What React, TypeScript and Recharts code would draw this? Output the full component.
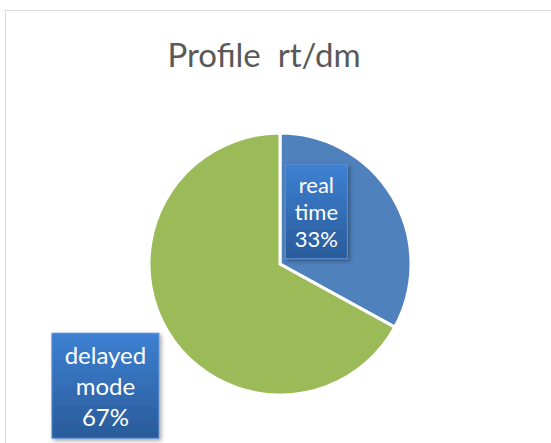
import { PieChart, Pie, Cell } from 'recharts';

const categories = ['real time', 'delayed mode'];
const shares = [33, 67];
const sliceColors = ['#4F81BD', '#9BBB59'];

const data = categories.map((name, i) => ({ name, value: shares[i] }));

// label box placement, Excel style "best fit"
const labelStyle: Record<string, { k: number; dx: number; dy: number; w: number; h: number; fs: number; lh: number }> = {
  'real time': { k: 0.5, dx: -20, dy: -19, w: 62, h: 94, fs: 22, lh: 27 },
  'delayed mode': { k: 1.3, dx: -28, dy: 35, w: 107, h: 105, fs: 24, lh: 31 },
};

const RAD = Math.PI / 180;

function renderLabel(props: any) {
  const { cx, cy, midAngle, outerRadius, percent, name } = props;
  const s = labelStyle[name];
  const r = outerRadius * s.k;
  const x = cx + r * Math.cos(-midAngle * RAD) + s.dx;
  const y = cy + r * Math.sin(-midAngle * RAD) + s.dy;
  const lines = [...name.split(' '), `${Math.round(percent * 100)}%`];
  const top = y - ((lines.length - 1) * s.lh) / 2;
  return (
    <g>
      <rect
        x={x - s.w / 2}
        y={y - s.h / 2}
        width={s.w}
        height={s.h}
        fill='url(#boxGrad)'
        stroke='#5a8fd6'
        strokeWidth={1}
        filter='url(#boxShadow)'
      />
      {lines.map((t, i) => (
        <text
          key={i}
          x={x}
          y={top + i * s.lh}
          textAnchor='middle'
          dominantBaseline='central'
          fill='#ffffff'
          fontSize={s.fs}
          fontFamily='Lato, sans-serif'
        >
          {t}
        </text>
      ))}
    </g>
  );
}

export default function App() {
  return (
    <div style={{ position: 'absolute', left: 0, top: 0, width: 551, height: 443, overflow: 'hidden', background: '#fff' }}>
      <div
        style={{
          position: 'absolute',
          left: 5,
          top: 10,
          width: 580,
          height: 480,
          border: '1px solid #d9d9d9',
        }}
      />
      <div
        style={{
          position: 'absolute',
          left: 0,
          top: 35,
          width: 528,
          textAlign: 'center',
          fontFamily: 'Lato, sans-serif',
          fontSize: 33,
          color: '#595959',
          whiteSpace: 'pre',
          lineHeight: '38px',
        }}
      >
        {'Profile  rt/dm'}
      </div>
      <div style={{ position: 'absolute', left: 0, top: 0 }}>
        <PieChart width={551} height={443} margin={{ top: 0, right: 0, bottom: 0, left: 0 }}>
          <defs>
            <linearGradient id='boxGrad' x1='0' y1='0' x2='0' y2='1'>
              <stop offset='0%' stopColor='#3d80d2' />
              <stop offset='100%' stopColor='#2a5b9a' />
            </linearGradient>
            <filter id='boxShadow' x='-20%' y='-20%' width='140%' height='140%'>
              <feDropShadow dx='2' dy='2' stdDeviation='2' floodColor='#000' floodOpacity='0.35' />
            </filter>
          </defs>
          <Pie
            data={data}
            dataKey='value'
            nameKey='name'
            cx={280}
            cy={264}
            outerRadius={131}
            startAngle={90}
            endAngle={-270}
            stroke='#ffffff'
            strokeWidth={3}
            label={renderLabel}
            labelLine={false}
            isAnimationActive={false}
          >
            {data.map((d, i) => (
              <Cell key={d.name} fill={sliceColors[i]} />
            ))}
          </Pie>
        </PieChart>
      </div>
    </div>
  );
}
